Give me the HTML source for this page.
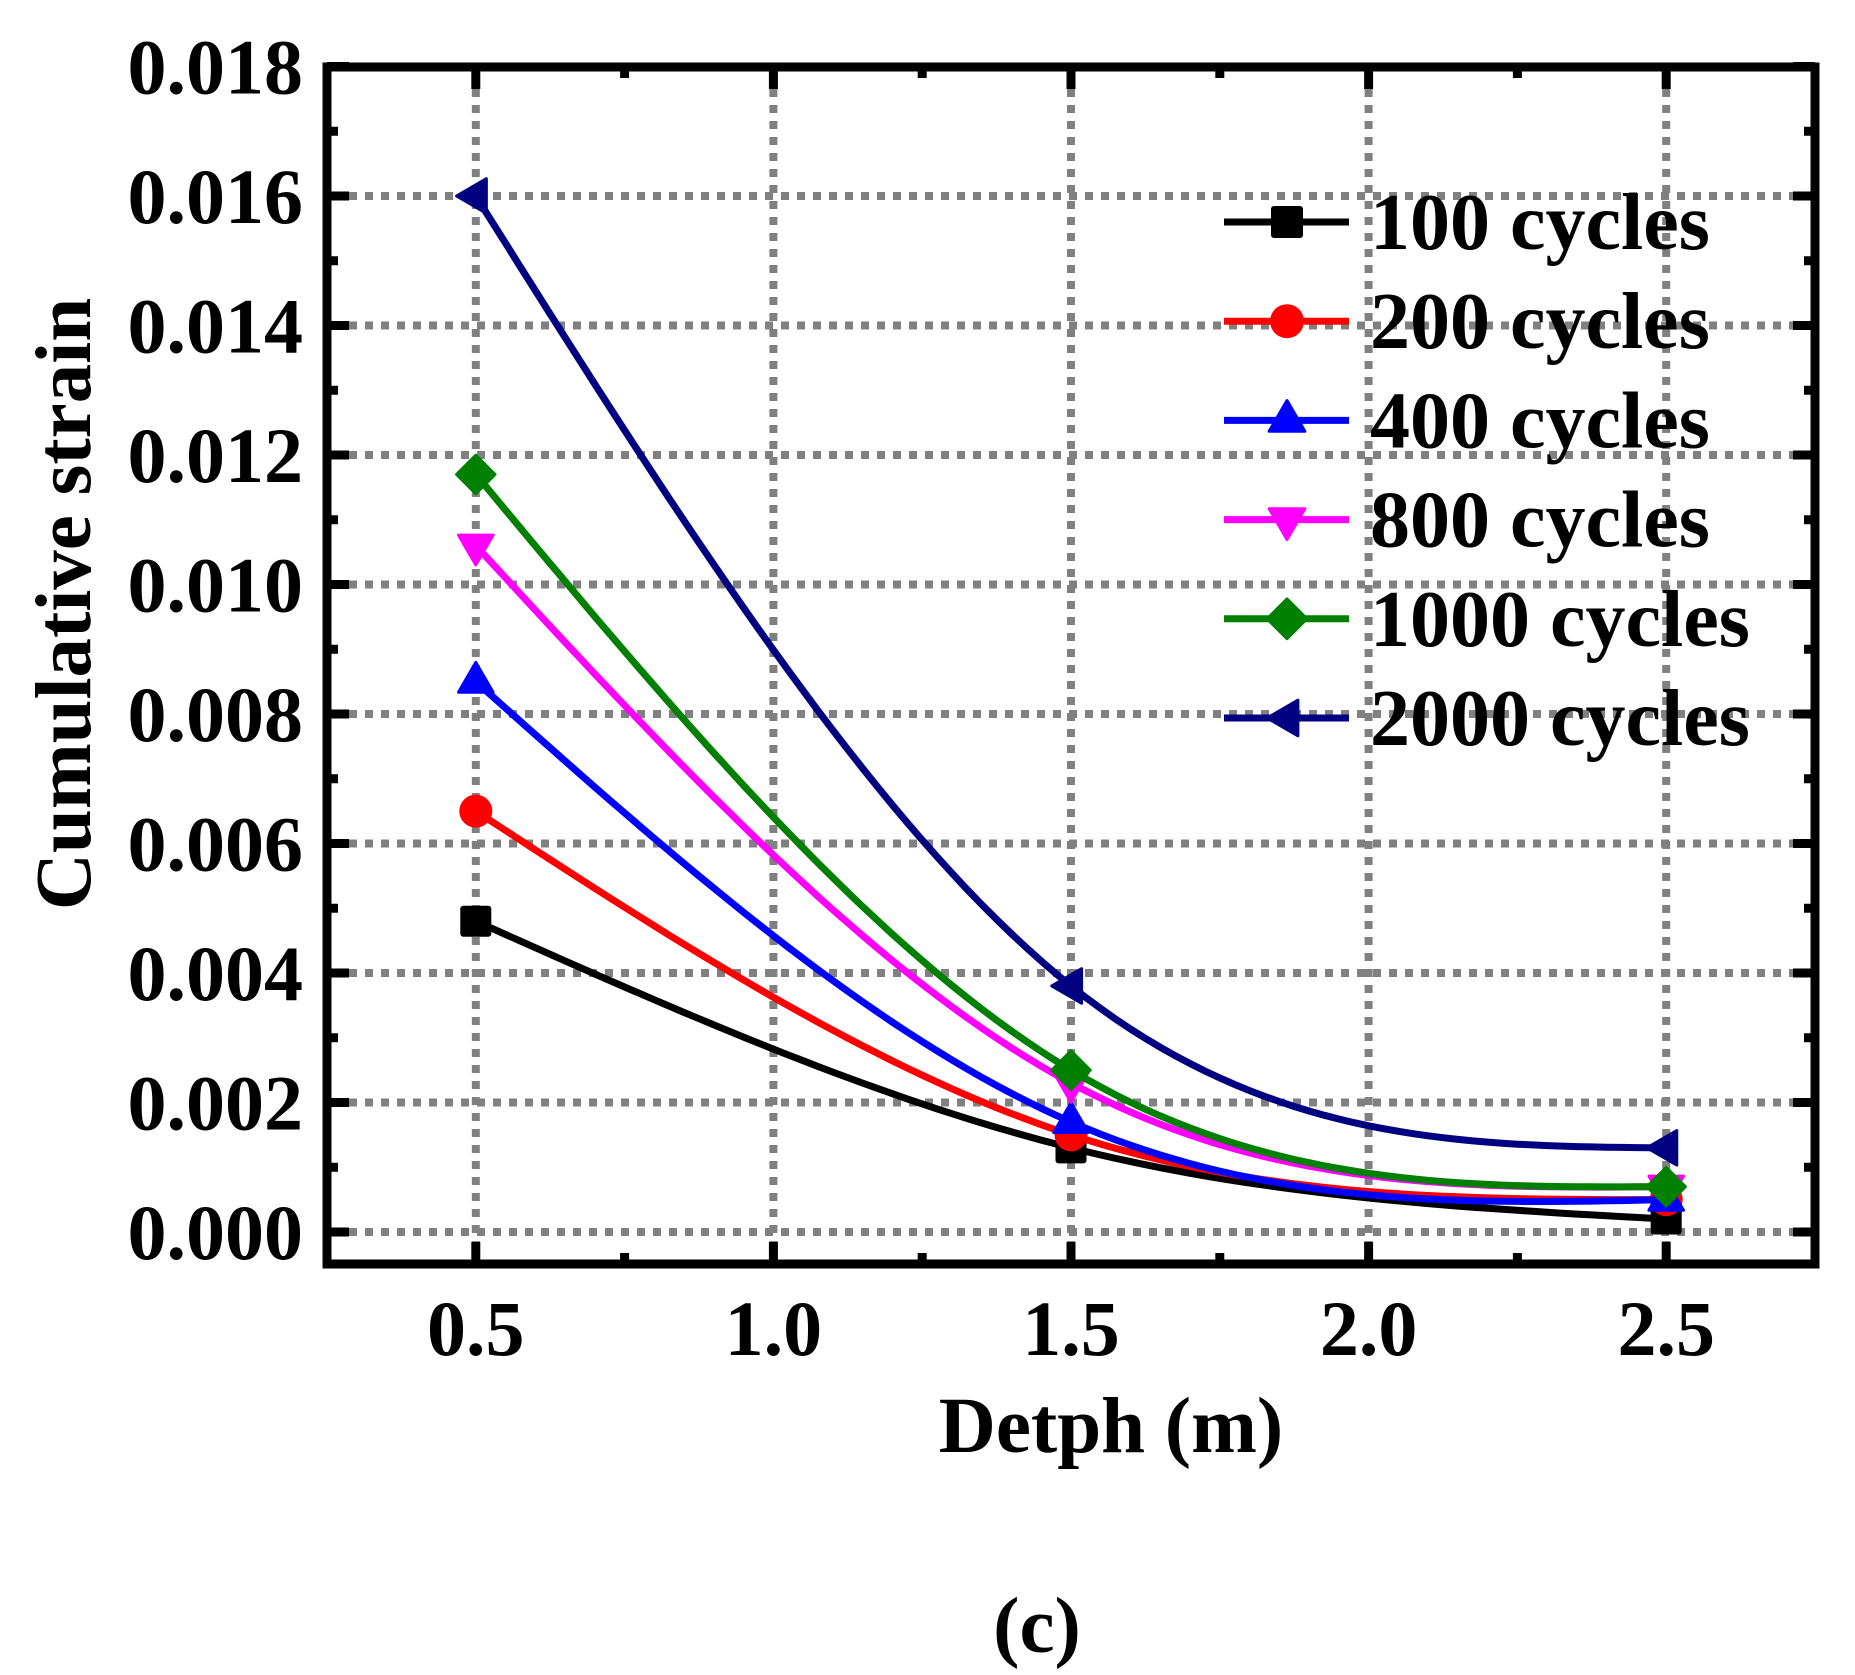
<!DOCTYPE html>
<html><head><meta charset="utf-8"><style>
html,body{margin:0;padding:0;background:#fff;}
svg{display:block;font-family:"Liberation Serif",serif;font-weight:bold;}
</style></head><body>
<svg id="chart" width="1855" height="1675" viewBox="0 0 1855 1675" xmlns="http://www.w3.org/2000/svg">
<g id="grid"></g>
<g id="ticks"></g>
<g id="series"></g>
<rect x="327" y="67" width="1488" height="1197" fill="none" stroke="#000" stroke-width="9"/>
<g id="labels" font-size="78"></g>
<g id="legend" font-size="80"></g>
<text x="1111" y="1452" font-size="79" text-anchor="middle">Detph (m)</text>
<text x="0" y="0" font-size="79" text-anchor="middle" transform="translate(90,604) rotate(-90)">Cumulative strain</text>
<text x="1037" y="1652" font-size="79" text-anchor="middle">(c)</text>
</svg>
<script>
const depths = [0.5, 1.5, 2.5];
const seriesNames = ["100 cycles","200 cycles","400 cycles","800 cycles","1000 cycles","2000 cycles"];
const s100 = [0.0048, 0.0013, 0.0002];
const s200 = [0.0065, 0.0015, 0.0005];
const s400 = [0.0085, 0.0017, 0.0005];
const s800 = [0.0106, 0.0023, 0.0007];
const s1000 = [0.0117, 0.0025, 0.0007];
const s2000 = [0.0160, 0.0038, 0.0013];
const xTicks = [0.5, 1.0, 1.5, 2.0, 2.5];
const xTickLabels = ["0.5","1.0","1.5","2.0","2.5"];
const yTicks = [0,0.002,0.004,0.006,0.008,0.010,0.012,0.014,0.016,0.018];
const yTickLabels = ["0.000","0.002","0.004","0.006","0.008","0.010","0.012","0.014","0.016","0.018"];

const NS="http://www.w3.org/2000/svg";
const L=327,R=1815,T=67,B=1264;
const xMin=0.25,xMax=2.75;
const X=v=>L+(v-xMin)/(xMax-xMin)*(R-L);
const Y=v=>1232-v*(1232-66.5)/0.018;
function mk(tag,parent){const e=document.createElementNS(NS,tag);parent.appendChild(e);return e;}
const grid=document.getElementById('grid'),ticks=document.getElementById('ticks'),labels=document.getElementById('labels');
function line(p,x1,y1,x2,y2,st,w,dash){const e=mk('line',p);e.setAttribute('x1',x1);e.setAttribute('y1',y1);e.setAttribute('x2',x2);e.setAttribute('y2',y2);e.setAttribute('stroke',st);e.setAttribute('stroke-width',w);if(dash)e.setAttribute('stroke-dasharray',dash);return e;}
xTicks.forEach((v,i)=>{
  const g=line(grid,X(v),T+22,X(v),B-22,'#808080',8,'8 8');
  
  
  const t1=line(ticks,X(v),B,X(v),B-22,'#000',9);
  const t2=line(ticks,X(v),T,X(v),T+22,'#000',9);
  const tx=mk('text',labels);tx.setAttribute('x',X(v));tx.setAttribute('y',1355);tx.setAttribute('text-anchor','middle');tx.textContent=xTickLabels[i];
  
  
});
for(let i=0;i<xTicks.length+1;i++){const v=0.25+i*0.5;if(v<=xMin||v>=xMax)continue;
  const a=line(ticks,X(v),B,X(v),B-11,'#000',9);
  const b=line(ticks,X(v),T,X(v),T+11,'#000',9);}
yTicks.forEach((v,i)=>{
  if(v<0.018){const g=line(grid,L+22,Y(v),R-22,Y(v),'#808080',8,'8 8');
  
  }
  const t1=line(ticks,L,Y(v),L+22,Y(v),'#000',9);
  const t2=line(ticks,R,Y(v),R-22,Y(v),'#000',9);
  const tx=mk('text',labels);tx.setAttribute('x',303);tx.setAttribute('y',Y(v)+27);tx.setAttribute('text-anchor','end');tx.textContent=yTickLabels[i];
  
  
  if(i<yTicks.length-1){const m=(v+yTicks[i+1])/2;
    const a=line(ticks,L,Y(m),L+11,Y(m),'#000',9);
    const b=line(ticks,R,Y(m),R-11,Y(m),'#000',9);}
});
const colors=['#000000','#ff0000','#0000ff','#ff00ff','#008000','#000080'];
const shapes=['square','circle','up','down','diamond','left'];
const allSeries=[s100,s200,s400,s800,s1000,s2000];
function splinePath(xs,ys){
  // natural cubic spline, sampled
  const n=xs.length,h=[],M=new Array(n).fill(0);
  for(let i=0;i<n-1;i++)h.push(xs[i+1]-xs[i]);
  if(n===3){M[1]=6*((ys[2]-ys[1])/h[1]-(ys[1]-ys[0])/h[0])/(2*(h[0]+h[1]));}
  let d='';
  for(let i=0;i<n-1;i++){for(let k=0;k<=40;k++){const t=k/40,x=xs[i]+t*h[i];
    const a=xs[i+1]-x,b=x-xs[i];
    const y=M[i]*a*a*a/(6*h[i])+M[i+1]*b*b*b/(6*h[i])+(ys[i]/h[i]-M[i]*h[i]/6)*a+(ys[i+1]/h[i]-M[i+1]*h[i]/6)*b;
    d+=(d?'L':'M')+X(x).toFixed(1)+','+Y(y).toFixed(1);}}
  return d;}
function marker(p,shape,cx,cy,col,s){
  let e;
  if(shape==='square'){e=mk('rect',p);e.setAttribute('x',cx-s/2);e.setAttribute('y',cy-s/2);e.setAttribute('width',s);e.setAttribute('height',s);e.setAttribute('rx',3);}
  else if(shape==='circle'){e=mk('circle',p);e.setAttribute('cx',cx);e.setAttribute('cy',cy);e.setAttribute('r',s/2+1);}
  else{e=mk('polygon',p);const r=s*0.62;let pts;
    if(shape==='up')pts=[[cx,cy-r],[cx+r*0.9,cy+r*0.55],[cx-r*0.9,cy+r*0.55]];
    else if(shape==='down')pts=[[cx,cy+r],[cx+r*0.9,cy-r*0.55],[cx-r*0.9,cy-r*0.55]];
    else if(shape==='left')pts=[[cx-r,cy],[cx+r*0.55,cy-r*0.9],[cx+r*0.55,cy+r*0.9]];
    else pts=[[cx,cy-r],[cx+r,cy],[cx,cy+r],[cx-r,cy]];
    e.setAttribute('points',pts.map(q=>q.join(',')).join(' '));e.setAttribute('stroke-linejoin','round');e.setAttribute('stroke',col);e.setAttribute('stroke-width',3);}
  e.setAttribute('fill',col);return e;}
const sg=document.getElementById('series');
allSeries.forEach((vals,si)=>{
  const g=mk('g',sg);
  
  
  const p=mk('path',g);p.setAttribute('d',splinePath(depths,vals));p.setAttribute('fill','none');p.setAttribute('stroke',colors[si]);p.setAttribute('stroke-width',7);
  
  
  vals.forEach((v,i)=>{const m=marker(g,shapes[si],X(depths[i]),Y(v),colors[si],31);
    
    });
});
const lg=document.getElementById('legend');
seriesNames.forEach((nm,si)=>{
  const y=222+si*99.2;
  const g=mk('g',lg);
  
  
  const l=line(g,1224,y,1349,y,colors[si],7);
  marker(g,shapes[si],1287,y,colors[si],32);
  const t=mk('text',g);t.setAttribute('x',1370);t.setAttribute('y',y+27);t.textContent=nm;
  
  
});
</script>
</body></html>
